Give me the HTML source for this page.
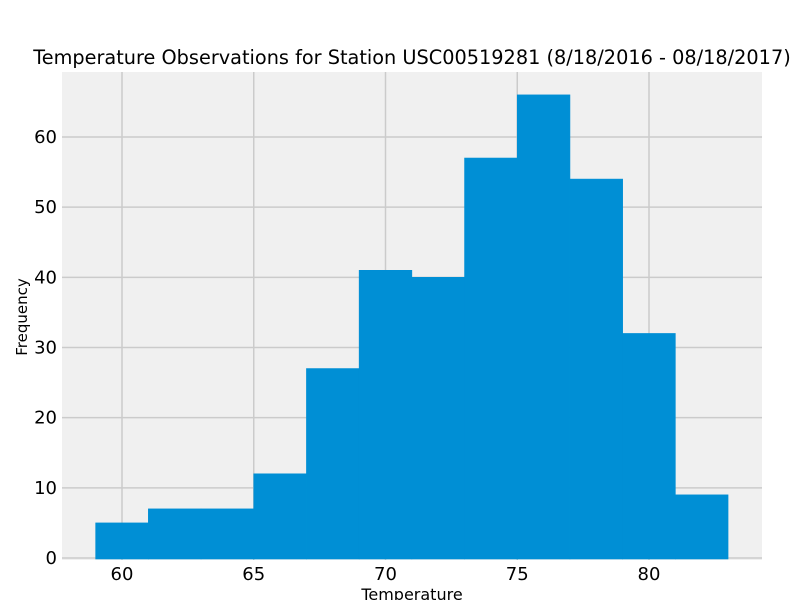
<!DOCTYPE html>
<html><head><meta charset="utf-8"><style>
body{margin:0;background:#fff;}
svg text{font-family:"DejaVu Sans","Liberation Sans",sans-serif;fill:#000;}
</style></head><body>
<svg id="chart" width="800" height="600" xmlns="http://www.w3.org/2000/svg">
<rect x="62" y="72" width="700" height="488" fill="#f0f0f0"/>
<g id="grid"></g>
<g id="bars"></g>
<g id="ticks"></g>
<text x="412" y="64" font-size="19.3" text-anchor="middle">Temperature Observations for Station USC00519281 (8/18/2016 - 08/18/2017)</text>
<text x="412" y="600" font-size="16" text-anchor="middle">Temperature</text>
<text x="0" y="0" font-size="15" text-anchor="middle" transform="translate(27,317) rotate(-90)">Frequency</text>
</svg>
<script>
const binEdges=[59,61,63,65,67,69,71,73,75,77,79,81,83];
const counts=[5,7,7,12,27,41,40,57,66,54,32,9];
const xTicks=[60,65,70,75,80];
const yTicks=[0,10,20,30,40,50,60];
const NS="http://www.w3.org/2000/svg";
const xs=v=>122+(v-60)*26.35;
const ys=v=>558-v*7.017;
const grid=document.getElementById('grid'),bars=document.getElementById('bars'),ticks=document.getElementById('ticks');
function mk(t,a){const e=document.createElementNS(NS,t);for(const k in a)e.setAttribute(k,a[k]);return e;}
xTicks.forEach(v=>{
  const l=mk('line',{x1:xs(v),x2:xs(v),y1:72,y2:560,stroke:'#cbcbcb','stroke-width':1.5});
  
  
  grid.appendChild(l);
  const t=mk('text',{x:xs(v),y:580,'font-size':18,'text-anchor':'middle'});
  t.textContent=v;
  
  
  ticks.appendChild(t);
});
yTicks.forEach(v=>{
  const l=mk('line',{x1:62,x2:762,y1:ys(v),y2:ys(v),stroke:'#cbcbcb','stroke-width':1.5});
  
  
  grid.appendChild(l);
  const t=mk('text',{x:57,y:ys(v)+6,'font-size':18,'text-anchor':'end'});
  t.textContent=v;
  
  
  ticks.appendChild(t);
});
counts.forEach((c,i)=>{
  const x0=xs(binEdges[i]),x1=xs(binEdges[i+1]);
  const r=mk('rect',{x:x0,y:ys(c),width:x1-x0,height:ys(0)-ys(c)+1,fill:'#008fd5',stroke:'#008fd5','stroke-width':0.6});
  
  
  bars.appendChild(r);
});
</script>
</body></html>
